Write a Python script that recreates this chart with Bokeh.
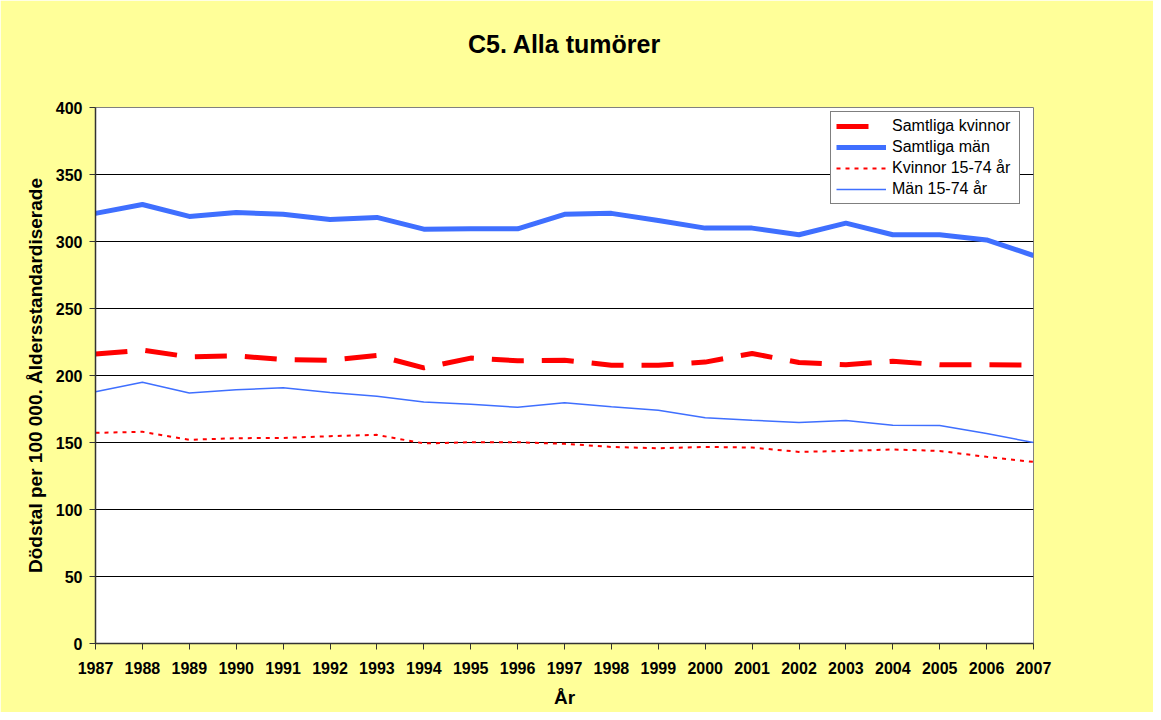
from bokeh.plotting import figure
from bokeh.models import (Legend, LegendItem, FixedTicker, Range1d, ColorBar,
                          LinearColorMapper)
from bokeh.embed import file_html
from bokeh.resources import INLINE

years = list(range(1987, 2008))
samtliga_kvinnor = [216, 218.9, 213.9, 214.6, 211.9, 211.4, 214.9, 205.7, 213, 211, 211.4,
                    207.7, 207.7, 210, 216.4, 209.7, 208, 210.7, 208, 208, 207.7]
samtliga_man = [321, 327.6, 318.7, 321.6, 320.4, 316.4, 318, 309.2, 309.5, 309.5, 320.3,
                321, 315.7, 310, 310, 305, 313.7, 305, 305, 301.2, 289.5]
kvinnor_15_74 = [157.2, 158, 152, 153.2, 153.4, 154.7, 155.7, 149.3, 150.2, 150.2, 149,
                 146.7, 145.7, 146.7, 146.2, 143, 143.7, 144.8, 143.7, 139.3, 135.5]
man_15_74 = [187.8, 195, 187, 189.3, 190.8, 187.3, 184.6, 180.3, 178.6, 176.3, 179.6,
             176.6, 174.1, 168.4, 166.6, 164.9, 166.4, 162.9, 162.7, 156.7, 150]
y_ticks = [0, 50, 100, 150, 200, 250, 300, 350, 400]

title = "C5. Alla tumörer"
x_label = "År"
y_label = "Dödstal per 100 000. Åldersstandardiserade"
labels = ["Samtliga kvinnor", "Samtliga män", "Kvinnor 15-74 år", "Män 15-74 år"]

FONT = "Liberation Sans"
BG = "#FFFF99"
BLUE = "#3F6FFF"
RED = "#FF0000"

p = figure(width=1153, height=712, output_backend="svg", toolbar_location=None,
           x_range=Range1d(1987, 2007), y_range=Range1d(0, 400),
           background_fill_color="white", border_fill_color=BG,
           min_border_left=95, min_border_right=120, min_border_top=107, min_border_bottom=69)

xa = p.below[0]
ya = p.left[0]

# invisible, text-free spacer between the frame and the title
spacer = ColorBar(color_mapper=LinearColorMapper(palette=[BG], low=0, high=1),
                  ticker=FixedTicker(ticks=[], minor_ticks=[]), orientation="horizontal",
                  height=35, padding=5, margin=0, scale_alpha=0,
                  background_fill_alpha=0, border_line_color=None, bar_line_color=None,
                  major_tick_line_color=None, minor_tick_line_color=None)
p.add_layout(spacer, "above")

p.title.text = title
p.title.align = "center"
p.title.text_font = FONT
p.title.text_font_size = "25px"
p.title.text_font_style = "bold"
p.title.text_color = "black"
p.title.standoff = 10

p.outline_line_color = "#808080"
p.outline_line_width = 1

xa.ticker = FixedTicker(ticks=years)
ya.ticker = FixedTicker(ticks=y_ticks)
for ax in (xa, ya):
    ax.axis_line_color = "#333333"
    ax.axis_line_width = 1.5
    ax.major_tick_line_color = "#333333"
    ax.major_tick_in = 0
    ax.major_tick_out = 6
    ax.minor_tick_line_color = None
    ax.major_label_text_font = FONT
    ax.major_label_text_font_size = "16px"
    ax.major_label_text_font_style = "bold"
    ax.major_label_text_color = "black"
    ax.axis_label_text_font = FONT
    ax.axis_label_text_font_style = "bold"
    ax.axis_label_text_color = "black"
    ax.axis_label_text_font_size = "19px"

xa.axis_label = x_label
xa.major_label_standoff = 12
xa.axis_label_standoff = 10
ya.axis_label = y_label
ya.major_label_standoff = 7
ya.axis_label_standoff = 7

p.xgrid.grid_line_color = None
p.ygrid.grid_line_color = "black"
p.ygrid.grid_line_width = 1

r1 = p.line(years, samtliga_kvinnor, line_color=RED, line_width=5, line_dash="32 18")
r2 = p.line(years, samtliga_man, line_color=BLUE, line_width=5)
r3 = p.line(years, kvinnor_15_74, line_color=RED, line_width=2, line_dash="4 5")
r4 = p.line(years, man_15_74, line_color=BLUE, line_width=1.5)

legend = Legend(items=[LegendItem(label=l, renderers=[r]) for l, r in zip(labels, [r1, r2, r3, r4])],
                location=(735, 439), orientation="vertical",
                border_line_color="black", border_line_width=1,
                background_fill_color="white", background_fill_alpha=1,
                label_text_font=FONT, label_text_font_size="16px", label_text_color="black",
                glyph_width=50, glyph_height=18, label_standoff=6, spacing=3,
                padding=5, margin=0, label_height=18, label_width=122)
p.add_layout(legend)

open("out.html", "w").write(file_html(p, INLINE))
